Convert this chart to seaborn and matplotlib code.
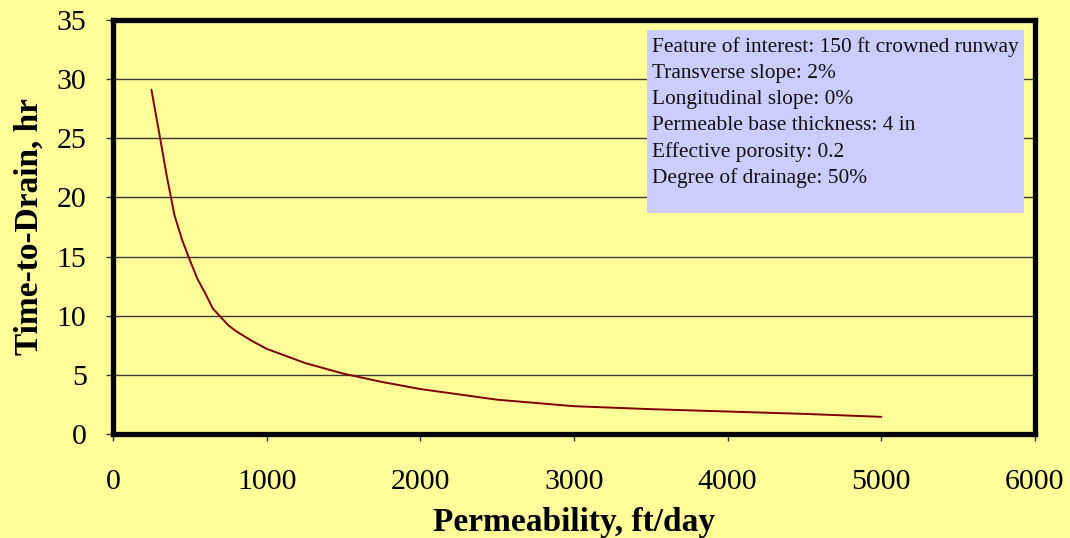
import matplotlib
matplotlib.use("Agg")
import matplotlib.pyplot as plt
import seaborn as sns
import pandas as pd
from matplotlib.patches import Rectangle

permeability = [250, 300, 350, 400, 450, 500, 550, 600, 650, 700, 750, 800, 900, 1000, 1250,
                1500, 1750, 2000, 2500, 3000, 3500, 4000, 4500, 5000]
time_to_drain = [29.1, 25.5, 21.8, 18.5, 16.4, 14.7, 13.1, 11.9, 10.6, 9.9, 9.2, 8.7, 7.9, 7.2, 6.0,
                 5.1, 4.4, 3.8, 2.9, 2.35, 2.1, 1.9, 1.7, 1.45]
x_ticks = [0, 1000, 2000, 3000, 4000, 5000, 6000]
y_ticks = [0, 5, 10, 15, 20, 25, 30, 35]
info_lines = [
    "Feature of interest: 150 ft crowned runway",
    "Transverse slope: 2%",
    "Longitudinal slope: 0%",
    "Permeable base thickness: 4 in",
    "Effective porosity: 0.2",
    "Degree of drainage: 50%",
]

sns.set_theme(style="white")
plt.rcParams["font.family"] = ["Liberation Serif", "DejaVu Serif"]

BG = "#FFFF99"
W, H = 1070, 538
fig = plt.figure(figsize=(W / 100, H / 100), dpi=100, facecolor=BG)
ax = fig.add_axes([113 / W, 1 - 434 / H, (1035 - 113) / W, (434 - 20) / H])
ax.set_facecolor(BG)

df = pd.DataFrame({"k": permeability, "t": time_to_drain})
sns.lineplot(data=df, x="k", y="t", ax=ax, color="#800000", linewidth=1.4)

ax.set_xlim(0, 6000)
ax.set_ylim(0, 35)
ax.set_xticks(x_ticks)
ax.set_yticks(y_ticks)
ax.set_xticklabels([str(v) for v in x_ticks])
ax.set_yticklabels([str(v) for v in y_ticks])
for y in y_ticks[1:-1]:
    ax.axhline(y, color="#3a3a3a", linewidth=1.0, zorder=1)

for s in ax.spines.values():
    s.set_visible(True)
    s.set_color("black")
    s.set_linewidth(3.8)

ax.tick_params(axis="both", which="major", direction="out", length=5, width=1,
               color="#333333", labelsize=21.5, labelcolor="black",
               bottom=True, left=True)
ax.tick_params(axis="x", pad=20)
ax.tick_params(axis="y", pad=14)

ax.set_xlabel("Permeability, ft/day", fontsize=24, fontweight="bold",
              color="black", labelpad=9)
ax.set_ylabel("Time-to-Drain, hr", fontsize=24, fontweight="bold",
              color="black", labelpad=9)

# info box
fig.patches.append(Rectangle((647 / W, 1 - 213 / H), (1024 - 647) / W, (213 - 30) / H,
                             transform=fig.transFigure, facecolor="#CCCCFF",
                             edgecolor="none", zorder=5))
baselines = [51.7, 77.8, 104.0, 130.3, 156.7, 183.0]
for line, b in zip(info_lines, baselines):
    fig.text(652 / W, 1 - b / H, line, fontsize=15.4, color="#111111",
             va="baseline", ha="left", zorder=6)

fig.savefig("out.png", dpi=100, facecolor=BG)
